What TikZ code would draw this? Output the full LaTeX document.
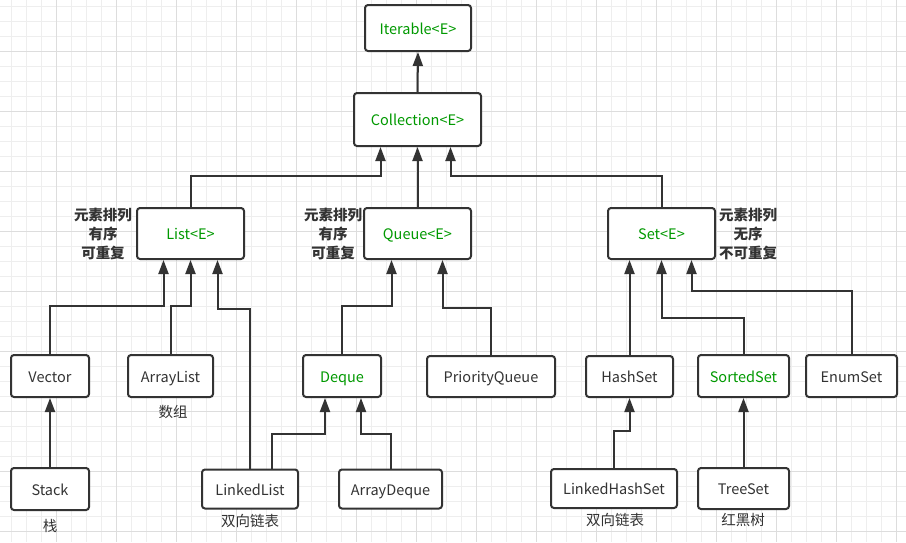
\documentclass[tikz,border=0pt]{standalone}
\usepackage{fontspec}
\setmainfont{Noto Sans CJK SC}
\usetikzlibrary{arrows.meta}
\definecolor{inkgray}{HTML}{333333}
\definecolor{ifacegreen}{RGB}{0,153,0}
\definecolor{gridminor}{HTML}{EEEEEE}
\definecolor{gridmajor}{HTML}{DDDDDD}
\tikzset{
  classbox/.style={draw=inkgray, line width=2pt, rounded corners=3pt, fill=white,
    inner sep=0pt, text height=14pt, text depth=2pt, text=inkgray,
    font=\fontsize{14.5}{17}\selectfont},
  iface/.style={classbox, text=ifacegreen},
  arr/.style={draw=inkgray, line width=2pt, -{Triangle[length=14pt,width=10pt]}},
  note/.style={text=inkgray, font=\fontsize{14.5}{19}\selectfont, align=center},
  boldnote/.style={note, font=\fontsize{14.5}{19}\selectfont\bfseries}
}
\begin{document}
\begin{tikzpicture}[x=1pt,y=-1pt]
            \useasboundingbox (0,0) rectangle (906,542);
            \fill[white] (0,0) rectangle (906,542);
            % grid
            \foreach \i in {0,...,59} \draw[gridminor, line width=1pt] ({11.7+15*\i},0) -- ({11.7+15*\i},542);
            \foreach \i in {0,...,35} \draw[gridminor, line width=1pt] (0,{6+15*\i}) -- (906,{6+15*\i});
            \foreach \i in {0,...,14} \draw[gridmajor, line width=1pt] ({56.7+60*\i},0) -- ({56.7+60*\i},542);
            \foreach \i in {0,...,8} \draw[gridmajor, line width=1pt] (0,{51+60*\i}) -- (906,{51+60*\i});

            \node[iface, minimum width=106, minimum height=46] (iter) at (418,28) {Iterable<E>};
            \node[iface, minimum width=127, minimum height=53] (coll) at (417.5,119.5) {Collection<E>};

            \node[iface, minimum width=107, minimum height=51] (list) at (190.5,233.5) {List<E>};
            \node[iface, minimum width=107, minimum height=51] (queue) at (417.5,233.5) {Queue<E>};
            \node[iface, minimum width=107, minimum height=51] (set) at (661.5,233.5) {Set<E>};

            \node[classbox, minimum width=78, minimum height=42] (vector) at (50,376) {Vector};
            \node[classbox, minimum width=85, minimum height=42] (arraylist) at (170.5,376) {ArrayList};
            \node[iface, minimum width=78, minimum height=42] (deque) at (342,376) {Deque};
            \node[classbox, minimum width=128, minimum height=41] (pqueue) at (491,376.5) {PriorityQueue};
            \node[classbox, minimum width=87, minimum height=41] (hashset) at (629.5,376.5) {HashSet};
            \node[iface, minimum width=91, minimum height=42] (sortedset) at (743.5,376) {SortedSet};
            \node[classbox, minimum width=91, minimum height=42] (enumset) at (851.5,376) {EnumSet};

            \node[classbox, minimum width=78, minimum height=42] (stack) at (50,489) {Stack};
            \node[classbox, minimum width=96, minimum height=39] (linkedlist) at (250,489) {LinkedList};
            \node[classbox, minimum width=103, minimum height=39] (arraydeque) at (390.5,489) {ArrayDeque};
            \node[classbox, minimum width=126, minimum height=39] (linkedhashset) at (614,488.5) {LinkedHashSet};
            \node[classbox, minimum width=91, minimum height=41] (treeset) at (743.5,488.5) {TreeSet};

            \node[boldnote] (listnote) at (103,234) {元素排列\\有序\\可重复};
            \node[boldnote] (queuenote) at (333,234) {元素排列\\有序\\可重复};
            \node[boldnote] (setnote) at (748,234) {元素排列\\无序\\不可重复};
            \node[note] (arraylistnote) at (173,412) {数组};
            \node[note] (stacknote) at (50,526) {栈};
            \node[note] (linkedlistnote) at (250,521) {双向链表};
            \node[note] (linkedhashsetnote) at (615,520) {双向链表};
            \node[note] (treesetnote) at (743,520) {红黑树};

            \draw[arr] (coll.north) -- (iter.south);
            \draw[arr] (list.north) -- ++(0,-31) -| ([xshift=-37pt]coll.south);
            \draw[arr] (queue.north) -- (coll.south);
            \draw[arr] (set.north) -- ++(0,-31) -| ([xshift=33pt]coll.south);

            \draw[arr] (vector.north) -- ++(0,-48) -| ([xshift=-27pt]list.south);
            \draw[arr] (arraylist.north) -- ++(0,-48) -| (list.south);
            \draw[arr] (linkedlist.north) -- ++(0,-160) -| ([xshift=27pt]list.south);
            \draw[arr] (stack.north) -- (vector.south);

            \draw[arr] (deque.north) -- ++(0,-48) -| ([xshift=-26pt]queue.south);
            \draw[arr] (pqueue.north) -- ++(0,-47) -| ([xshift=25pt]queue.south);
            \draw[arr] ([xshift=22pt]linkedlist.north) -- ++(0,-35) -| ([xshift=-17pt]deque.south);
            \draw[arr] (arraydeque.north) -- ++(0,-35) -| ([xshift=19pt]deque.south);

            \draw[arr] (hashset.north) -- ([xshift=-32pt]set.south);
            \draw[arr] (sortedset.north) -- ++(0,-36) -| (set.south);
            \draw[arr] (enumset.north) -- ++(0,-63) -| ([xshift=30pt]set.south);
            \draw[arr] (linkedhashset.north) -- ++(0,-37) -| (hashset.south);
            \draw[arr] (treeset.north) -- (sortedset.south);
          \end{tikzpicture}
\end{document}
